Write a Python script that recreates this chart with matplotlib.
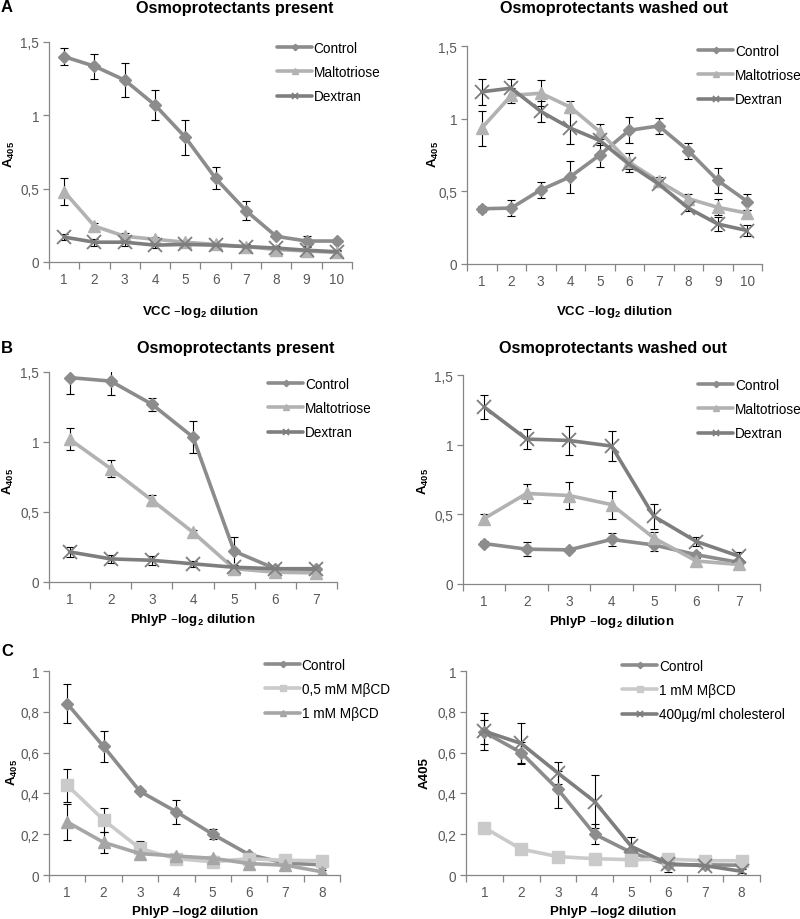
import numpy as np
import matplotlib
matplotlib.use("Agg")
import matplotlib.pyplot as plt
from matplotlib.ticker import FuncFormatter, FixedLocator

plt.rcParams['font.family'] = ['Liberation Sans', 'DejaVu Sans']
plt.rcParams['mathtext.default'] = 'regular'

# ---- data ----
x_vcc = [1, 2, 3, 4, 5, 6, 7, 8, 9, 10]
x_phly = [1, 2, 3, 4, 5, 6, 7]
x_phly_c = [1, 2, 3, 4, 5, 6, 7, 8]

# A left - osmoprotectants present
a1_control = [1.40, 1.335, 1.24, 1.07, 0.85, 0.57, 0.35, 0.175, 0.143, 0.143]
a1_control_err = [0.06, 0.085, 0.115, 0.105, 0.12, 0.075, 0.065, 0.01, 0.035, 0.01]
a1_malto = [0.48, 0.245, 0.175, 0.155, 0.135, 0.12, 0.105, 0.085, 0.075, 0.065]
a1_malto_err = [0.09, 0.02, 0.02, 0.015, 0.015, 0.01, 0.01, 0.01, 0.01, 0.01]
a1_dextran = [0.17, 0.135, 0.135, 0.115, 0.12, 0.115, 0.105, 0.095, 0.08, 0.07]
a1_dextran_err = [0.02, 0.025, 0.025, 0.02, 0.015, 0.015, 0.015, 0.015, 0.02, 0.015]

# A right - osmoprotectants washed out
a2_control = [0.38, 0.385, 0.51, 0.60, 0.75, 0.92, 0.95, 0.78, 0.575, 0.43]
a2_control_err = [0.02, 0.055, 0.055, 0.11, 0.085, 0.09, 0.055, 0.055, 0.085, 0.055]
a2_malto = [0.935, 1.16, 1.175, 1.08, 0.91, 0.70, 0.57, 0.45, 0.39, 0.35]
a2_malto_err = [0.12, 0.05, 0.09, 0.04, 0.05, 0.065, 0.03, 0.03, 0.055, 0.02]
a2_dextran = [1.185, 1.21, 1.05, 0.935, 0.85, 0.685, 0.55, 0.385, 0.275, 0.23]
a2_dextran_err = [0.09, 0.06, 0.07, 0.11, 0.03, 0.03, 0.02, 0.02, 0.05, 0.04]

# B left
b1_control = [1.46, 1.435, 1.27, 1.035, 0.22, 0.095, 0.09]
b1_control_err = [0.12, 0.10, 0.045, 0.115, 0.10, 0.01, 0.01]
b1_malto = [1.02, 0.81, 0.585, 0.355, 0.095, 0.07, 0.065]
b1_malto_err = [0.08, 0.06, 0.04, 0.02, 0.01, 0.01, 0.01]
b1_dextran = [0.215, 0.165, 0.155, 0.13, 0.105, 0.095, 0.095]
b1_dextran_err = [0.035, 0.03, 0.03, 0.02, 0.01, 0.01, 0.01]

# B right
b2_control = [0.29, 0.25, 0.245, 0.32, 0.28, 0.21, 0.155]
b2_control_err = [0.02, 0.05, 0.01, 0.045, 0.04, 0.02, 0.02]
b2_malto = [0.47, 0.65, 0.635, 0.57, 0.33, 0.165, 0.14]
b2_malto_err = [0.035, 0.07, 0.095, 0.10, 0.04, 0.02, 0.02]
b2_dextran = [1.27, 1.04, 1.03, 0.99, 0.485, 0.305, 0.20]
b2_dextran_err = [0.085, 0.07, 0.105, 0.105, 0.09, 0.03, 0.03]

# C left
c1_control = [0.84, 0.63, 0.41, 0.31, 0.20, 0.10, 0.058, 0.05]
c1_control_err = [0.097, 0.077, 0.01, 0.06, 0.025, 0.01, 0.01, 0.01]
c1_mbcd05 = [0.44, 0.27, 0.13, 0.08, 0.065, 0.08, 0.072, 0.07]
c1_mbcd05_err = [0.08, 0.058, 0.035, 0.01, 0.01, 0.01, 0.01, 0.01]
c1_mbcd1 = [0.26, 0.16, 0.105, 0.093, 0.082, 0.056, 0.048, 0.016]
c1_mbcd1_err = [0.088, 0.05, 0.01, 0.01, 0.01, 0.01, 0.01, 0.01]

# C right
c2_control = [0.70, 0.60, 0.42, 0.20, 0.11, 0.05, 0.05, 0.048]
c2_control_err = [0.06, 0.05, 0.09, 0.05, 0.01, 0.01, 0.01, 0.01]
c2_mbcd1 = [0.232, 0.127, 0.09, 0.08, 0.075, 0.078, 0.07, 0.07]
c2_mbcd1_err = [0.025, 0.01, 0.01, 0.01, 0.01, 0.01, 0.01, 0.01]
c2_chol = [0.705, 0.645, 0.50, 0.36, 0.14, 0.055, 0.046, 0.018]
c2_chol_err = [0.09, 0.10, 0.056, 0.13, 0.048, 0.04, 0.01, 0.01]

# ---- styles ----
C_CTRL = '#8c8c8c'
C_MALTO = '#b2b2b2'
C_DEX = '#7e7e7e'
C_LIGHT = '#cacaca'
C_MID = '#a6a6a6'
TICK_C = '#595959'
SPINE_C = '#868686'

W, H = 800, 920
fig = plt.figure(figsize=(W / 100, H / 100), dpi=100)


def px_axes(x0, y_top, x1, y_bot):
    return fig.add_axes([x0 / W, 1 - y_bot / H, (x1 - x0) / W, (y_bot - y_top) / H])


def ftext(x, y, s, **kw):
    fig.text(x / W, 1 - y / H, s, **kw)


def comma(v, pos):
    s = ('%g' % round(v, 2))
    return s.replace('.', ',')


def style_axes(ax, n, ymax, ystep):
    ax.set_xlim(0.5, n + 0.5)
    ax.set_ylim(0, ymax)
    ax.set_xticks(range(1, n + 1))
    ax.xaxis.set_minor_locator(FixedLocator(np.arange(0.5, n + 1, 1.0)))
    ax.set_yticks(np.arange(0, ymax + 1e-9, ystep))
    ax.yaxis.set_major_formatter(FuncFormatter(comma))
    for sp in ['top', 'right']:
        ax.spines[sp].set_visible(False)
    for sp in ['left', 'bottom']:
        ax.spines[sp].set_color(SPINE_C)
        ax.spines[sp].set_linewidth(0.9)
    ax.tick_params(axis='x', which='major', length=0, labelsize=9.8, labelcolor=TICK_C, pad=7)
    ax.tick_params(axis='x', which='minor', length=5, color=SPINE_C, width=0.9, direction='out')
    ax.tick_params(axis='y', length=4, color=SPINE_C, width=0.9, labelsize=9.8,
                   labelcolor=TICK_C, pad=3)
    ax.patch.set_alpha(0)


def series(ax, x, y, err, color, marker, ms, label, mew=1.0):
    ax.errorbar(x, y, yerr=err, fmt='none', ecolor='black', elinewidth=0.8,
                capsize=3, capthick=0.8, zorder=1)
    ax.plot(x, y, color=color, lw=2.6, marker=marker, ms=ms, mec=color, mfc=color,
            mew=mew, label=label, zorder=2, solid_capstyle='round')


def legend(ax, x, y):
    ax.legend(loc='upper left', bbox_to_anchor=(x / W, 1 - y / H),
              bbox_transform=fig.transFigure, frameon=False, fontsize=9.8,
              borderpad=0, borderaxespad=0, handlelength=2.6, handletextpad=0.1,
              labelspacing=0.75, markerscale=0.5)


# ---- A left ----
ax = px_axes(49, 43, 352, 263)
series(ax, x_vcc, a1_control, a1_control_err, C_CTRL, 'D', 6.5, 'Control')
series(ax, x_vcc, a1_malto, a1_malto_err, C_MALTO, '^', 9, 'Maltotriose')
series(ax, x_vcc, a1_dextran, a1_dextran_err, C_DEX, 'x', 10, 'Dextran', mew=1.3)
style_axes(ax, 10, 1.5, 0.5)
legend(ax, 277, 42)

# ---- A right ----
ax = px_axes(467, 47, 762, 265)
series(ax, x_vcc, a2_control, a2_control_err, C_CTRL, 'D', 6.5, 'Control')
series(ax, x_vcc, a2_malto, a2_malto_err, C_MALTO, '^', 9, 'Maltotriose')
series(ax, x_vcc, a2_dextran, a2_dextran_err, C_DEX, 'x', 10, 'Dextran', mew=1.3)
style_axes(ax, 10, 1.5, 0.5)
legend(ax, 698, 45)

# ---- B left ----
ax = px_axes(49, 373, 337, 583)
series(ax, x_phly, b1_control, b1_control_err, C_CTRL, 'D', 6.5, 'Control')
series(ax, x_phly, b1_malto, b1_malto_err, C_MALTO, '^', 9, 'Maltotriose')
series(ax, x_phly, b1_dextran, b1_dextran_err, C_DEX, 'x', 10, 'Dextran', mew=1.3)
style_axes(ax, 7, 1.5, 0.5)
legend(ax, 268, 378)

# ---- B right ----
ax = px_axes(463, 376, 760, 585)
series(ax, x_phly, b2_control, b2_control_err, C_CTRL, 'D', 6.5, 'Control')
series(ax, x_phly, b2_malto, b2_malto_err, C_MALTO, '^', 9, 'Maltotriose')
series(ax, x_phly, b2_dextran, b2_dextran_err, C_DEX, 'x', 10, 'Dextran', mew=1.3)
style_axes(ax, 7, 1.5, 0.5)
legend(ax, 698, 379)

# ---- C left ----
ax = px_axes(49, 672, 340, 876)
series(ax, x_phly_c, c1_control, c1_control_err, C_CTRL, 'D', 6.5, 'Control')
series(ax, x_phly_c, c1_mbcd05, c1_mbcd05_err, C_LIGHT, 's', 8.5, '0,5 mM MβCD')
series(ax, x_phly_c, c1_mbcd1, c1_mbcd1_err, C_MID, '^', 9, '1 mM MβCD')
style_axes(ax, 8, 1.0, 0.2)
legend(ax, 265, 659)

# ---- C right ----
ax = px_axes(466, 672, 760, 876)
series(ax, x_phly_c, c2_control, c2_control_err, C_CTRL, 'D', 6.5, 'Control')
series(ax, x_phly_c, c2_mbcd1, c2_mbcd1_err, C_LIGHT, 's', 8.5, '1 mM MβCD')
series(ax, x_phly_c, c2_chol, c2_chol_err, C_DEX, 'x', 10, '400µg/ml cholesterol', mew=1.3)
style_axes(ax, 8, 1.0, 0.2)
legend(ax, 622, 660)

# ---- texts ----
title_kw = dict(fontsize=11.7, fontweight='bold', ha='center', va='center')
ftext(235, 8, 'Osmoprotectants present', **title_kw)
ftext(614, 9, 'Osmoprotectants washed out', **title_kw)
ftext(236, 349, 'Osmoprotectants present', **title_kw)
ftext(613, 348, 'Osmoprotectants washed out', **title_kw)

letter_kw = dict(fontsize=12, fontweight='bold', ha='left', va='center')
ftext(1, 8, 'A', **letter_kw)
ftext(1, 349, 'B', **letter_kw)
ftext(1, 652, 'C', **letter_kw)

xl_kw = dict(fontsize=9.5, fontweight='bold', ha='center', va='center')
ftext(200, 312, 'VCC –log$_2$ dilution', **xl_kw)
ftext(614, 312, 'VCC –log$_2$ dilution', **xl_kw)
ftext(193, 620, 'PhlyP –log$_2$ dilution', **xl_kw)
ftext(612, 622, 'PhlyP –log$_2$ dilution', **xl_kw)
ftext(195, 912, 'PhlyP –log2 dilution', **xl_kw)
ftext(613, 912, 'PhlyP –log2 dilution', **xl_kw)

yl_kw = dict(fontsize=9.5, fontweight='bold', ha='center', va='center', rotation=90)
ftext(9, 155, 'A$_{405}$', **yl_kw)
ftext(433, 155, 'A$_{405}$', **yl_kw)
ftext(8, 482, 'A$_{405}$', **yl_kw)
ftext(423, 482, 'A$_{405}$', **yl_kw)
ftext(12, 773, 'A$_{405}$', **yl_kw)
ftext(425, 773, 'A405', **yl_kw)

fig.savefig('out.png', dpi=100)
